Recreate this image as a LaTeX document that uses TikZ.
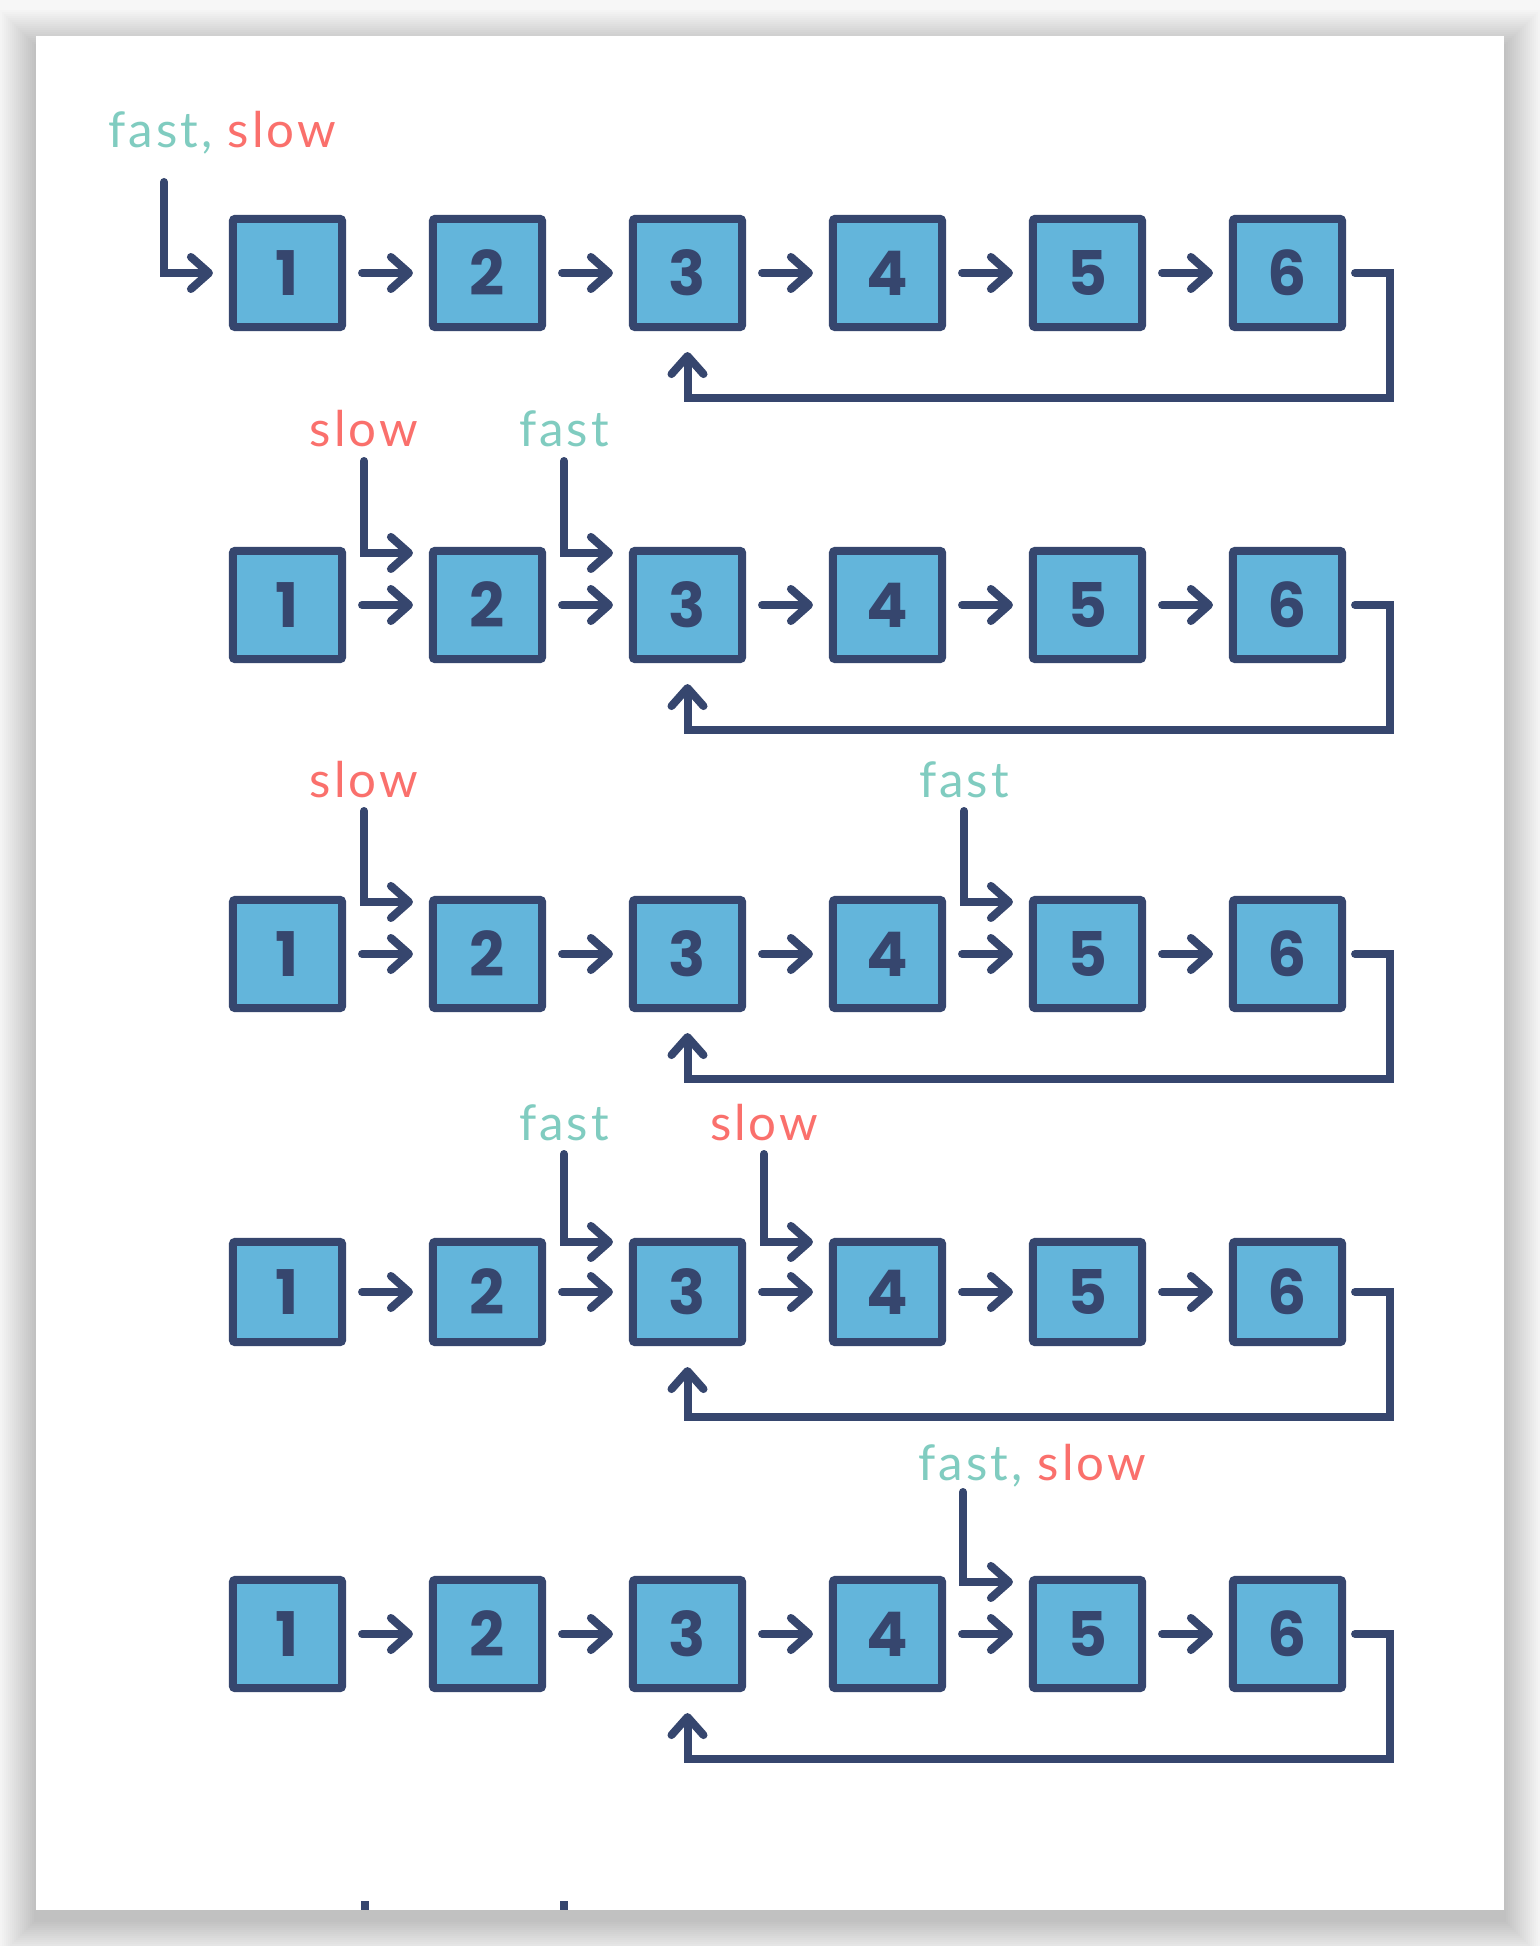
\documentclass[tikz,border=0pt]{standalone}
\usepackage{fontspec}
\setmainfont{Lato}
\newfontfamily\lblfont[LetterSpace=6]{Lato}
\newfontfamily\numfont{Poppins}
\usetikzlibrary{arrows.meta}
\definecolor{navy}{RGB}{54,70,110}
\definecolor{cellblue}{RGB}{99,181,219}
\definecolor{fastcol}{RGB}{128,204,192}
\definecolor{slowcol}{RGB}{250,112,108}
\tikzset{
	cell/.style={draw=navy, fill=cellblue, line width=0.08cm, rounded corners=0.02cm,
		minimum width=1.09cm, minimum height=1.08cm, inner sep=0pt,
		font=\numfont\fontsize{17.5}{17.5}\selectfont\bfseries, text=navy},
	tipbarb/.style={-{Straight Barb[length=0.18cm, width=0.32cm, round]}},
	next/.style={navy, line width=0.08cm, line cap=round, tipbarb,
		shorten <=0.16cm, shorten >=0.16cm},
	back/.style={navy, line width=0.08cm, line cap=round, tipbarb,
		shorten <=0.09cm, shorten >=0.21cm},
	ptr/.style={navy, line width=0.08cm, line cap=round, tipbarb, shorten >=0.16cm},
	lbl/.style={inner sep=0pt, font=\lblfont\fontsize{14}{14}\selectfont}
}
\begin{document}
\begin{tikzpicture}[x=0.01cm, y=-0.01cm]
	\useasboundingbox (0,0) rectangle (1540,1946);
	\fill[white!97!black] (0,0) rectangle (1540,1946);
	\foreach \k in {1,...,18}
		\fill[black, opacity=0.011]
		(36-2*\k, 46-2*\k) rectangle (1504+2*\k, 1920+2*\k);
	\fill[white] (36,36) rectangle (1504,1910);

	\foreach \r/\y/\h in {1/273/1.08cm, 2/605/1.08cm, 3/954/1.08cm, 4/1292/1.0cm, 5/1634/1.08cm} {
		\foreach \i in {1,...,6}
			\node[cell, minimum height=\h] (b\r-\i) at ({287.5+200*(\i-1)}, \y) {\i};
		\foreach \i [evaluate=\i as \j using int(\i+1)] in {1,...,5}
			\draw[next] (b\r-\i) -- (b\r-\j);
		\draw[back] (b\r-6.east) -- ++(44,0) -- ++(0,125) -| (b\r-3.south);
	}

	\node[lbl, anchor=base west] (fs1) at (108,148)
		{\color{fastcol}fast, \color{slowcol}slow};
	\coordinate (p1) at (164,182);
	\draw[ptr] (p1) |- (b1-1.west);

	\node[lbl, text=slowcol, anchor=base] (s2) at (364,447) {slow};
	\node[lbl, text=fastcol, anchor=base] (f2) at (564,447) {fast};
	\draw[ptr] ([yshift=-0.14cm]s2.base) |- ([yshift=0.52cm]b2-2.west);
	\draw[ptr] ([yshift=-0.14cm]f2.base) |- ([yshift=0.52cm]b2-3.west);

	\node[lbl, text=slowcol, anchor=base] (s3) at (364,797) {slow};
	\node[lbl, text=fastcol, anchor=base] (f3) at (964,797) {fast};
	\draw[ptr] ([yshift=-0.14cm]s3.base) |- ([yshift=0.52cm]b3-2.west);
	\draw[ptr] ([yshift=-0.14cm]f3.base) |- ([yshift=0.52cm]b3-5.west);

	\node[lbl, text=fastcol, anchor=base] (f4) at (564,1140) {fast};
	\node[lbl, text=slowcol, anchor=base] (s4) at (764,1140) {slow};
	\draw[ptr] ([yshift=-0.14cm]f4.base) |- ([yshift=0.5cm]b4-3.west);
	\draw[ptr] ([yshift=-0.14cm]s4.base) |- ([yshift=0.5cm]b4-4.west);

	\node[lbl, anchor=base west] (fs5) at (918,1480)
		{\color{fastcol}fast, \color{slowcol}slow};
	\coordinate (p5) at (963,1492);
	\draw[ptr] (p5) |- ([yshift=0.52cm]b5-5.west);

	\coordinate (q1) at (365,1901);
	\coordinate (q2) at (564,1901);
	\draw[navy, line width=0.08cm] (q1) -- ++(0,9);
	\draw[navy, line width=0.08cm] (q2) -- ++(0,9);
\end{tikzpicture}
\end{document}
